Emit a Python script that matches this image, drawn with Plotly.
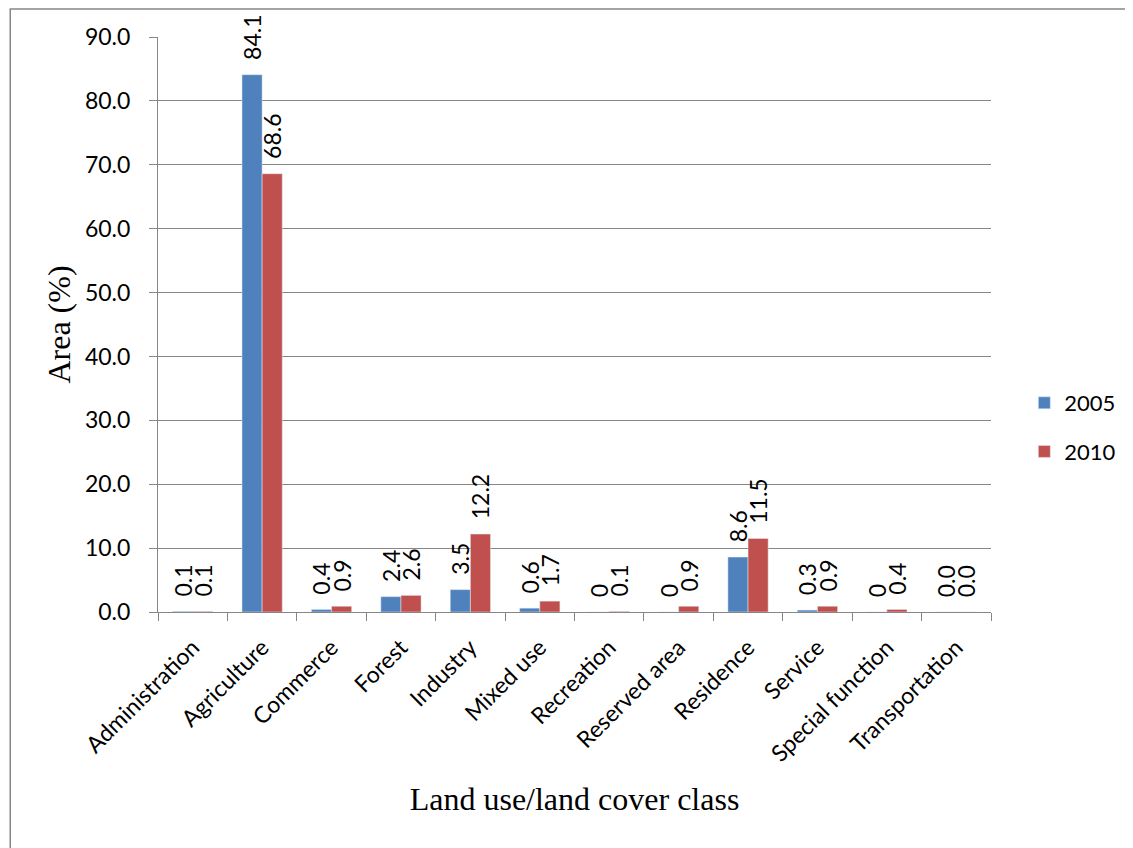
import plotly.graph_objects as go

categories = ["Administration", "Agriculture", "Commerce", "Forest", "Industry",
              "Mixed use", "Recreation", "Reserved area", "Residence", "Service",
              "Special function", "Transportation"]
values_2005 = [0.1, 84.1, 0.4, 2.4, 3.5, 0.6, 0, 0, 8.6, 0.3, 0, 0.0]
values_2010 = [0.1, 68.6, 0.9, 2.6, 12.2, 1.7, 0.1, 0.9, 11.5, 0.9, 0.4, 0.0]
labels_2005 = ["0.1", "84.1", "0.4", "2.4", "3.5", "0.6", "0", "0", "8.6", "0.3", "0", "0.0"]
labels_2010 = ["0.1", "68.6", "0.9", "2.6", "12.2", "1.7", "0.1", "0.9", "11.5", "0.9", "0.4", "0.0"]
y_ticks = [0, 10, 20, 30, 40, 50, 60, 70, 80, 90]

SANS = "Lato, Open Sans, sans-serif"
SERIF = "Liberation Serif, Times New Roman, serif"
label_font = dict(family=SANS, size=23, color="black")
PAD = "\u00a0\u00a0"  # visual gap between bar top and label

fig = go.Figure()
fig.add_trace(go.Bar(x=categories, y=values_2005, name="2005", text=labels_2005,
                     texttemplate=PAD + "%{text}",
                     marker=dict(color="#4F81BD"), textposition="outside",
                     textangle=-90, textfont=label_font, cliponaxis=False,
                     constraintext="none", legendgroup="a"))
fig.add_trace(go.Bar(x=categories, y=values_2010, name="2010", text=labels_2010,
                     texttemplate=PAD + "%{text}",
                     marker=dict(color="#C0504D"), textposition="outside",
                     textangle=-90, textfont=label_font, cliponaxis=False,
                     constraintext="none", legendgroup="b"))

# page body has an 8px offset; figure occupies 8..1133 x 8..848
W, H = 1125, 840
L, R, T, B = 150, 135, 29, 236
pw, ph = W - L - R, H - T - B

fig.update_layout(
    width=W, height=H,
    margin=dict(l=L, r=R, t=T, b=B),
    paper_bgcolor="white", plot_bgcolor="white",
    barmode="group", bargap=0.42, bargroupgap=0.0,
    font=dict(family=SANS, size=23, color="black"),
    showlegend=True,
    legend=dict(x=1.04, y=0.40, xanchor="left", yanchor="top",
                font=dict(size=22), tracegroupgap=17, bgcolor="rgba(0,0,0,0)"),
    xaxis=dict(
        title=dict(text="Land use/land cover class",
                   font=dict(family=SERIF, size=32), standoff=21),
        tickangle=-45, tickfont=dict(size=23), ticklabelstandoff=12,
        showline=True, linecolor="#868686", linewidth=1,
        ticks="outside", ticklen=8, tickcolor="#868686", tickson="boundaries",
        showgrid=False,
    ),
    yaxis=dict(
        title=dict(text="Area (%)", font=dict(family=SERIF, size=32), standoff=4),
        range=[0, 90], tickvals=y_ticks, tickformat=".1f", tickfont=dict(size=23),
        ticklabelstandoff=14,
        showline=True, linecolor="#868686", linewidth=1,
        ticks="outside", ticklen=8, tickcolor="#868686",
        showgrid=True, gridcolor="#868686", gridwidth=1, zeroline=False,
    ),
)

fig.add_shape(type="rect", xref="paper", yref="paper",
              x0=(1 - L) / pw, x1=(W + 20 - L) / pw,
              y0=-(H + 20 - T - ph) / ph, y1=1 + (T - 1) / ph,
              line=dict(color="#868686", width=1.5), fillcolor="rgba(0,0,0,0)",
              layer="below")

fig.write_html("out.html")
